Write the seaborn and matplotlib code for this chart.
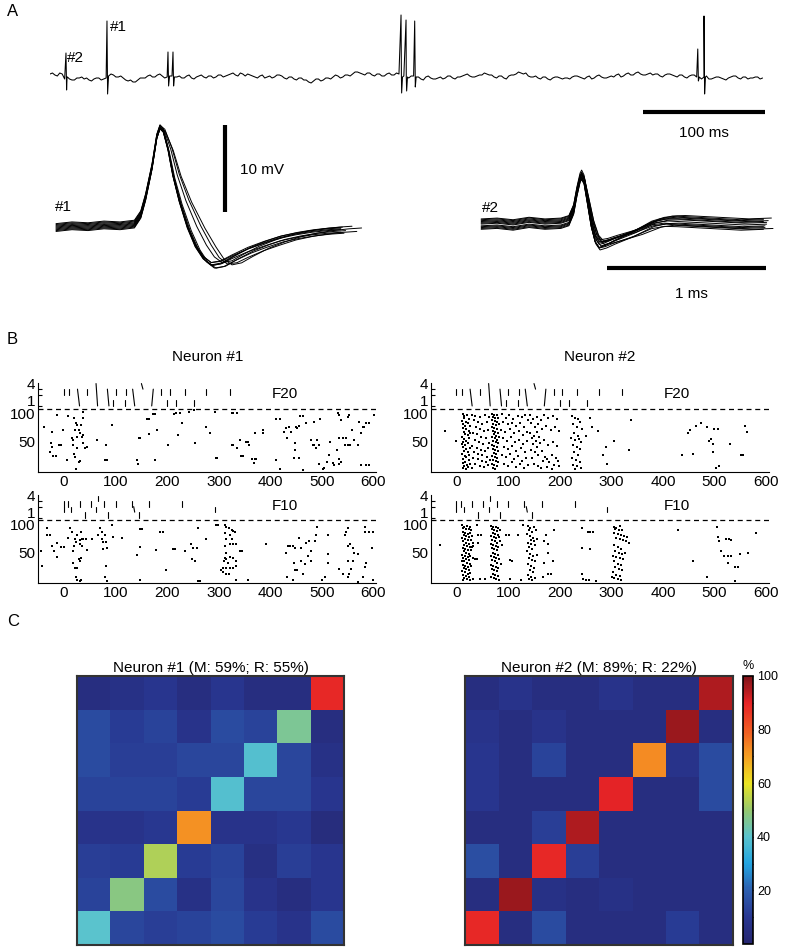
import numpy as np
import pandas as pd
import matplotlib
matplotlib.use('Agg')
import matplotlib.pyplot as plt
import seaborn as sns
from matplotlib.colors import LinearSegmentedColormap

sns.set_style('white')
plt.rcParams['font.family'] = ['Liberation Sans', 'DejaVu Sans']
plt.rcParams['text.color'] = 'k'
plt.rcParams['xtick.color'] = 'k'
plt.rcParams['ytick.color'] = 'k'
plt.rcParams['axes.edgecolor'] = 'k'

# ---------------- data ----------------
# A: raw trace, baseline sampled every 4 ms (px-like units, 0 = resting level)
trace_step = 4
trace_base = [3, 2, 4, -2, -2, -3, -1, -2, -3, -2, -1, -2,
              1, 2, 0, -1, -4, -5, -3, -1, 1, 0, 2, 1,
              0, 1, 0, -1, 1, -1, 0, 2, -1, 1, 0, 2,
              1, 3, 2, 4, 1, 2, 0, 1, -1, 1, 0, 2,
              -1, 0, -2, -1, -3, -5, -4, -2, -3, -1, 0, 1,
              0, 2, 3, 5, 3, 4, 2, 3, 1, 3, 2, 4,
              2, 0, 1, -1, -2, 0, -1, -2, 0, -1, 1, -2,
              0, 2, 1, 0, 2, 4, 2, 0, 1, -1, 1, 2,
              5, 3, 1, 0, -1, 0, -2, -1, 0, -2, -1, 0,
              1, -1, 0, -2, 1, 0, -1, 1, 2, 0, 3, 2,
              4, 3, 2, 4, 3, 1, 2, 3, 1, 2, 0, 1,
              2, -1, 0, -2, -1, 0, -2, -1, 1, -1, 0, -2,
              -1, 0, -1]
# samples half way between the ones above (t = 2, 6, 10, ...)
trace_mid = [4, 1, 3, 0, -3, -1, 0, -1, -4, -1, -3, -1,
             3, 0, 1, -3, -3, -5, -1, -1, 2, 0, 3, -1,
             1, -1, 1, -1, 2, -2, 1, 0, 1, -1, 2, 0,
             2, 4, 1, 3, 3, 1, -1, 2, 0, -1, 2, 1,
             -2, 0, -3, -1, -3, -6, -2, -4, -1, -2, 2, -1,
             2, 1, 5, 4, 2, 4, 1, 3, 1, 4, 2, 3,
             1, -1, 1, 0, -3, 1, -2, -1, -2, 1, -1, 0,
             1, 3, 0, 1, 2, 3, 2, -1, 1, -2, 2, 3,
             4, 4, 0, 1, -2, 0, -3, 0, -1, -1, -2, 1,
             0, -2, 1, -1, 2, -1, 0, 0, 3, 1, 4, 2,
             5, 2, 3, 2, 3, 0, 3, 2, 0, 2, -1, 2,
             0, -2, 1, -2, 0, -1, -3, 0, 1, -2, 0, -1,
             0, -2]
spike_t = [13.1, 46.7, 96.7, 100.8, 287.7, 291.8, 298.9, 530.9, 536.0]
spike_up = [24, 56, 25, 25, 62, 57, 56, 28, 61]
spike_down = [-13, -17, -9, -9, -16, -14, -10, -4, -17]

# A: spike waveform templates (ms from peak, mV)
w1_t = [-0.65, -0.55, -0.45, -0.35, -0.25, -0.16, -0.12, -0.09, -0.05, -0.02, 0.0, 0.02,
        0.05, 0.08, 0.12, 0.17, 0.22, 0.27, 0.32, 0.38, 0.45, 0.55, 0.65, 0.75, 0.85,
        0.95, 1.05, 1.13]
w1_v = [0.0, 0.2, 0.1, 0.3, 0.2, 0.4, 1.5, 3.5, 7.0, 10.5, 11.6, 11.2,
        9.0, 6.0, 3.0, 0.0, -2.2, -3.6, -4.3, -4.1, -3.4, -2.5, -1.8, -1.2, -0.8,
        -0.5, -0.3, -0.2]
w1_gain = [1.00, 0.99, 1.01, 0.98, 1.00, 0.97, 1.02, 0.99, 0.98, 1.00]
w1_pre = [0.0, 0.3, -0.3, 0.5, -0.2, 0.2, -0.4, 0.1, 0.4, -0.1]
w1_post = [0.1, -0.3, 0.3, 0.0, -0.4, 0.2, -0.1, 0.4, -0.2, 0.2]
w1_lag = [0.0, 0.0, 0.01, 0.0, 0.02, 0.0, 0.03, 0.07, 0.10, 0.13]

w2_t = [-0.63, -0.53, -0.43, -0.33, -0.23, -0.13, -0.08, -0.05, -0.03, -0.01, 0.0, 0.015,
        0.035, 0.06, 0.085, 0.11, 0.15, 0.2, 0.26, 0.32, 0.38, 0.44, 0.52, 0.6, 0.7,
        0.8, 0.9, 1.0, 1.14]
w2_v = [0.1, 0.2, 0.0, 0.3, 0.1, 0.2, 0.5, 1.8, 3.8, 5.4, 5.75, 5.2,
        3.0, 0.2, -1.6, -2.3, -2.1, -1.7, -1.3, -0.9, -0.4, 0.1, 0.4, 0.4, 0.3,
        0.2, 0.1, 0.0, 0.1]
w2_gain = [1.00, 0.97, 1.03, 0.95, 1.00, 0.98, 1.02, 0.96, 1.01, 0.99, 0.97, 1.00]
w2_pre = [0.0, 0.4, -0.4, 0.6, -0.3, 0.2, -0.6, 0.3, 0.5, -0.2, 0.1, -0.5]
w2_post = [0.3, -0.4, 0.6, 0.0, -0.6, 0.4, -0.2, 0.7, -0.3, 0.2, -0.5, 0.5]
w2_lag = [0.0, 0.01, 0.0, 0.02, 0.0, 0.03, 0.01, 0.05, 0.0, 0.02, 0.06, 0.0]

# B: stimulus marks (time top, time bottom, level low, level high)
f20_marks = [(-1, -1, 2, 3), (10, 10, 2, 3), (26, 30, 0, 3), (45, 45, 2, 3), (62, 65, 0, 4),
             (84, 87, 0, 3), (95, 95, 0, 1), (100, 100, 2, 3), (118, 118, 0, 1), (120, 120, 2, 3),
             (133, 137, 0, 3), (150, 153, 3, 4), (173, 170, 0, 3), (188, 188, 2, 3), (200, 200, 0, 1),
             (205, 205, 2, 3), (218, 218, 0, 1), (234, 234, 2, 3), (252, 252, 0, 1), (276, 276, 2, 3),
             (321, 321, 2, 3)]
f10_marks = [(-1, -1, 1, 3), (8, 8, 2, 3), (14, 14, 1, 2), (30, 30, 2, 3), (41, 41, 0, 1),
             (52, 52, 2, 3), (62, 62, 1, 2), (65, 65, 3, 4), (78, 78, 2, 3), (85, 85, 0, 1),
             (100, 100, 2, 3), (131, 131, 2, 3), (135, 137, 1, 2), (146, 146, 0, 1), (165, 165, 2, 3),
             (229, 229, 2, 3), (292, 292, 1, 2)]

# B: spikes (time ms, trial)
n1_f20 = np.array([
    (-38, 76), (-24, 67), (-25, 46), (-24, 40), (-27, 31), (-21, 23), (-15, 23), (-9, 43), (-5, 43), (-14, 97),
    (-3, 70), (5, 17), (8, 95), (15, 55), (17, 52), (21, 70), (19, 91), (23, 82), (26, 79), (28, 70),
    (31, 64), (25, 58), (18, 43), (25, 37), (20, 27), (22, 22), (31, 14), (28, 13), (24, 1), (34, 58),
    (36, 46), (41, 37), (45, 39), (37, 61), (33, 79), (37, 92), (37, 103), (63, 53), (79, 16), (83, 16),
    (81, 43), (92, 79), (142, 16), (144, 10), (146, 55), (148, 55), (160, 89), (164, 89), (165, 63), (173, 99),
    (176, 99), (181, 70), (176, 16), (201, 43), (214, 99), (218, 100), (225, 100), (228, 82), (221, 61), (243, 103),
    (252, 105), (254, 47), (276, 76), (283, 64), (292, 103), (294, 20), (297, 20), (325, 100), (328, 100), (336, 100),
    (325, 43), (328, 43), (336, 37), (341, 52), (344, 23), (348, 23), (352, 49), (357, 49), (358, 43), (364, 19),
    (368, 11), (370, 19), (373, 19), (370, 65), (386, 70), (386, 65), (412, 89), (418, 89), (412, 16), (419, 1),
    (426, 67), (431, 73), (432, 55), (436, 76), (441, 67), (447, 46), (447, 34), (446, 20), (449, 76), (452, 73),
    (455, 77), (458, 95), (463, 95), (455, 20), (463, -2), (470, 83), (479, 52), (483, 43), (485, 85), (485, 43),
    (495, 43), (497, 89), (489, 37), (490, 52), (505, 2), (503, 1), (510, 13), (514, 25), (515, 49), (521, 11),
    (531, 101), (534, 97), (537, 88), (530, 34), (533, 19), (534, 10), (537, 13), (534, 56), (541, 55), (547, 55),
    (544, 43), (550, 43), (550, 94), (553, 97), (558, 70), (555, 43), (563, 52), (572, 85), (576, 64), (579, 76),
    (582, 76), (586, 82), (592, 83), (576, 7), (586, 7), (592, 7), (570, 43), (602, 97), (495, 10), (524, 7)])

n2_f20 = np.array([
    (-22, 68), (-1, 50),
    (12, 98), (15, 95), (20, 96), (14, 92), (24, 90), (11, 87), (18, 85), (22, 83), (13, 80), (16, 77),
    (25, 78), (12, 73), (19, 71), (23, 69), (14, 66), (17, 63), (21, 61), (11, 58), (24, 56), (15, 54),
    (19, 51), (13, 48), (22, 46), (16, 43), (12, 40), (25, 38), (18, 36), (14, 33), (21, 31), (11, 28),
    (23, 26), (16, 23), (19, 21), (13, 18), (24, 16), (17, 13), (12, 11), (20, 8), (15, 6), (22, 4),
    (13, 2), (18, 1), (26, 10), (10, 45), (26, 65),
    (30, 97), (36, 95), (45, 94), (55, 96), (62, 93), (33, 88), (42, 85), (50, 80), (58, 84), (38, 75),
    (46, 72), (53, 68), (60, 70), (31, 65), (40, 62), (48, 58), (57, 55), (35, 52), (44, 48), (52, 45),
    (63, 47), (30, 42), (39, 38), (47, 35), (55, 33), (61, 37), (34, 30), (42, 27), (50, 25), (58, 22),
    (32, 20), (41, 18), (49, 15), (56, 12), (64, 16), (36, 9), (45, 6), (53, 4), (60, 8), (30, 3),
    (68, 99), (72, 97), (78, 96), (70, 93), (75, 91), (81, 92), (69, 88), (74, 86), (79, 84), (71, 81),
    (76, 79), (82, 80), (68, 76), (73, 74), (78, 72), (70, 69), (75, 67), (80, 65), (72, 62), (77, 60),
    (69, 57), (74, 55), (79, 53), (71, 50), (76, 48), (81, 46), (68, 43), (73, 41), (78, 39), (70, 36),
    (75, 34), (80, 32), (72, 29), (77, 27), (69, 24), (74, 22), (79, 20), (71, 17), (76, 15), (81, 13),
    (68, 10), (73, 8), (78, 6), (70, 3), (75, 1), (83, 58),
    (88, 98), (95, 92), (102, 96), (110, 90), (118, 95), (126, 93), (133, 97), (90, 85), (99, 80), (107, 83),
    (115, 78), (123, 82), (131, 75), (138, 88), (86, 70), (94, 66), (103, 72), (112, 64), (120, 68), (128, 61),
    (136, 66), (89, 55), (97, 50), (105, 57), (113, 48), (121, 53), (129, 45), (137, 51), (92, 40), (100, 36),
    (108, 42), (116, 33), (124, 38), (132, 30), (87, 26), (96, 22), (104, 28), (111, 18), (119, 24), (127, 15),
    (135, 20), (91, 10), (99, 6), (107, 12), (115, 4), (123, 9), (131, 2), (139, 7),
    (142, 96), (148, 90), (155, 94), (163, 88), (170, 97), (178, 92), (186, 95), (194, 89), (145, 82), (152, 76),
    (158, 80), (166, 72), (174, 78), (182, 70), (190, 75), (198, 68), (143, 65), (150, 60), (156, 66), (146, 55),
    (153, 50), (160, 57), (148, 45), (155, 40), (162, 47), (170, 52), (178, 44), (186, 49), (195, 42), (144, 35),
    (151, 30), (158, 25), (165, 32), (172, 22), (168, 15), (175, 18), (180, 12), (184, 26), (188, 8), (192, 20),
    (196, 14), (150, 10), (157, 5), (164, 2), (176, 4), (185, 1), (199, 6), (147, 20),
    (224, 95), (230, 92), (236, 90), (240, 85), (226, 80), (233, 76), (243, 72), (228, 65), (235, 60), (222, 55),
    (230, 52), (238, 54), (242, 48), (226, 44), (234, 40), (240, 36), (228, 30), (236, 25), (224, 20), (232, 16),
    (239, 12), (226, 8), (234, 5), (242, 3), (230, 1),
    (258, 92), (262, 75), (275, 68), (290, 40), (284, 25), (292, 10), (338, 88), (335, 35), (305, 50), (251, 60),
    (437, 25), (448, 65), (452, 70), (458, 28), (465, 78), (474, 83), (485, 76), (490, 50), (494, 54), (497, 45),
    (499, 71), (506, 71), (503, 2), (508, 6), (530, 45), (551, 25), (555, 25), (560, 77), (563, 67), (498, 30)])

n1_f10 = np.array([
    (-45, 53), (-43, 25), (-34, 82), (-27, 81), (-34, 94), (-24, 62), (-19, 53), (-14, 68), (-14, 42), (-5, 60),
    (0, 60), (8, 76), (12, 94), (15, 88), (17, 53), (21, 75), (26, 82), (23, 69), (19, 62), (30, 72),
    (32, 88), (34, 74), (31, 65), (34, 62), (28, 38), (17, 32), (21, 22), (25, 22), (30, 35), (32, 41),
    (23, 5), (26, 1), (30, -1), (32, 0), (37, 74), (45, 54), (43, 74), (55, 75), (66, 82), (70, 95),
    (73, 74), (76, 69), (81, 69), (73, 88), (79, 82), (83, 59), (76, 56), (81, 25), (80, 6), (83, -1),
    (92, 99), (95, 79), (112, 76), (141, 46), (147, 60), (147, 93), (151, 93), (147, 0), (186, 87), (192, 87),
    (179, 54), (197, 19), (212, 56), (215, 56), (234, 53), (247, 65), (250, 59), (257, 59), (249, 38), (253, 35),
    (260, 94), (260, -1), (263, -1), (275, 75), (295, 99), (299, 99),
    (315, 97), (320, 94), (325, 91), (328, 89), (331, 88), (312, 85), (321, 82), (315, 74), (325, 74), (328, 65),
    (334, 65), (312, 62), (342, 52), (346, 52), (312, 41), (315, 38), (321, 42), (328, 41), (334, 35), (318, 31),
    (305, 19), (309, 22), (315, 22), (321, 22), (328, 22), (334, 25), (308, 15), (315, 12), (320, 12), (333, 1),
    (357, 1), (318, 32), (310, 34), (315, 50), (321, 65), (312, 100),
    (391, 65), (431, 50), (434, 62), (439, 62), (444, 62), (447, 59), (432, 6), (444, 1), (446, 31), (447, 19),
    (452, 19), (455, 76), (459, 59), (460, 35), (463, 11), (468, 29), (470, 68), (476, 71), (473, 44), (479, 53),
    (479, 35), (486, 71), (488, 82), (490, 97), (501, 1), (506, 6), (512, 47), (512, 32), (512, 82),
    (534, 21), (541, 11), (544, 82), (547, 88), (550, 94), (550, 62), (555, 65), (560, 59), (563, 50), (570, 47),
    (550, 35), (560, 35), (550, 6), (553, 12), (556, 21), (570, -3), (583, 97), (583, 88), (592, 88), (599, 88),
    (586, 32), (583, 24), (580, 5), (597, 59), (599, 0)])

n2_f10 = np.array([
    (11, 99), (15, 97), (20, 98), (25, 96), (13, 94), (18, 92), (23, 93), (28, 90), (12, 88), (16, 86),
    (21, 84), (26, 85), (14, 82), (19, 80), (24, 78), (11, 76), (17, 74), (22, 72), (27, 73), (13, 70),
    (18, 68), (23, 66), (15, 64), (20, 62), (25, 60), (12, 58), (17, 56), (22, 54), (27, 55), (14, 52),
    (19, 50), (24, 48), (11, 46), (16, 44), (21, 42), (26, 43), (13, 40), (18, 38), (23, 36), (15, 34),
    (20, 32), (25, 30), (12, 28), (17, 26), (22, 24), (27, 25), (14, 22), (19, 20), (24, 18), (11, 16),
    (16, 14), (21, 12), (26, 13), (13, 10), (18, 8), (23, 6), (15, 4), (20, 2), (25, 1), (12, 1),
    (29, 60), (30, 80), (31, 40), (32, 62), (10, 35),
    (66, 98), (71, 96), (76, 97), (81, 94), (68, 92), (73, 90), (78, 89), (84, 91), (70, 86), (75, 84),
    (80, 82), (67, 80), (72, 78), (77, 76), (82, 79), (69, 72), (74, 70), (79, 68), (85, 70), (66, 66),
    (71, 64), (76, 62), (81, 60), (68, 58), (73, 56), (78, 54), (70, 50), (75, 48), (80, 46), (67, 44),
    (72, 42), (77, 40), (82, 38), (69, 36), (74, 34), (79, 32), (66, 28), (71, 26), (76, 24), (81, 22),
    (68, 20), (73, 18), (78, 16), (70, 12), (75, 10), (80, 8), (67, 6), (72, 4), (77, 2), (82, 1),
    (87, 64), (86, 30),
    (138, 98), (143, 95), (150, 97), (140, 90), (146, 88), (153, 91), (137, 84), (142, 80), (148, 76), (144, 72),
    (150, 70), (139, 68), (145, 66), (152, 64), (141, 60), (147, 56), (137, 52), (143, 48), (149, 44), (140, 40),
    (146, 36), (152, 34), (138, 30), (144, 26), (150, 22), (142, 18), (148, 14), (139, 10), (145, 6), (151, 4),
    (141, 2), (147, 1), (156, 75), (155, 45),
    (305, 97), (310, 95), (316, 98), (308, 92), (314, 90), (320, 91), (306, 86), (312, 84), (318, 82), (325, 80),
    (330, 78), (310, 76), (316, 74), (322, 72), (328, 70), (334, 68), (306, 64), (312, 60), (318, 56), (308, 52),
    (314, 50), (320, 48), (326, 50), (304, 44), (310, 42), (316, 40), (322, 38), (306, 34), (312, 30), (318, 28),
    (308, 24), (314, 20), (320, 18), (304, 14), (310, 10), (316, 8), (306, 4), (312, 2), (318, 1), (302, 6),
    (-33, 64), (40, 100), (32, 68), (42, 68), (35, 38), (40, 38), (45, 3), (55, 3), (31, 3), (42, 82),
    (48, 82), (96, 82), (103, 36), (108, 35), (101, 82), (119, 82), (103, 3), (128, 100), (125, 0),
    (170, 71), (173, 82), (177, 65), (178, 50), (170, 32), (177, 11), (183, 11), (186, 34), (167, 5), (189, 91),
    (243, 94), (254, 87), (258, 87), (264, 87), (244, 59), (258, 56), (244, 12), (245, 3), (250, 0), (257, 0),
    (271, -1), (430, 91), (485, 6), (504, 97), (507, 79), (509, 71), (523, 74), (529, 74), (533, 72), (512, 53),
    (519, 44), (526, 44), (533, 44), (549, 47), (565, 50), (526, 31), (539, 24), (546, 24), (539, -1), (459, 35),
    (581, 85)])

# C: classification matrices (%), top row first
conf_n1 = [[5, 7, 9, 5, 9, 5, 5, 89],
           [15, 11, 13, 8, 15, 13, 46, 5],
           [15, 12, 12, 14, 14, 39, 14, 7],
           [13, 13, 13, 11, 39, 14, 14, 9],
           [8, 8, 10, 72, 8, 8, 10, 4],
           [12, 11, 53, 11, 13, 6, 12, 9],
           [13, 48, 15, 7, 14, 8, 5, 9],
           [40, 14, 12, 13, 15, 11, 8, 15]]
conf_n2 = [[5, 8, 5, 5, 8, 5, 5, 95],
           [8, 5, 8, 5, 5, 5, 97, 5],
           [9, 5, 13, 5, 5, 73, 8, 15],
           [9, 5, 5, 5, 90, 5, 5, 15],
           [5, 5, 12, 95, 5, 5, 5, 5],
           [16, 5, 89, 12, 5, 5, 5, 5],
           [5, 97, 7, 5, 7, 5, 5, 5],
           [89, 5, 15, 5, 5, 5, 11, 5]]
titles_c = ['Neuron #1 (M: 59%; R: 55%)', 'Neuron #2 (M: 89%; R: 22%)']

# ---------------- figure ----------------
W, H = 787, 950
fig = plt.figure(figsize=(W / 100, H / 100), dpi=100)


def add_ax(l, t, r, b):
    return fig.add_axes([l / W, 1 - b / H, (r - l) / W, (b - t) / H])


FS = 11

# ---- A: raw trace ----
ax = add_ax(50, 10, 765, 140)
base_t = np.arange(len(trace_base)) * trace_step
mid_t = np.arange(len(trace_mid)) * trace_step + trace_step / 2
st = np.array(spike_t)
trace = pd.DataFrame({
    't': np.concatenate([base_t, mid_t, st, st + 0.5, st + 1.2]),
    'v': np.concatenate([trace_base, trace_mid, spike_up, spike_down, np.zeros(len(st))]),
}).sort_values('t', kind='stable')
sns.lineplot(data=trace, x='t', y='v', estimator=None, sort=False, color='k', lw=0.75, ax=ax)
ax.set_xlim(0, 586)
ax.set_ylim(-63, 67)
ax.axis('off')
ax.plot([486, 586], [-35, -35], color='k', lw=3, solid_capstyle='butt', clip_on=False)
ax.text(536, -56, '100 ms', ha='center', va='center', fontsize=FS)
ax.text(14, 19, '#2', ha='left', va='center', fontsize=FS)
ax.text(49, 50, '#1', ha='left', va='center', fontsize=FS)


def waveform_frame(tt, vv, gain, pre, post, lag):
    tt = np.array(tt)
    vv = np.array(vv)
    parts = []
    for i in range(len(gain)):
        t = tt + lag[i] * np.clip(tt / 0.2, 0, 1)
        off = pre[i] + (post[i] - pre[i]) * np.clip(tt / 0.6, 0, 1)
        parts.append(pd.DataFrame({'t': t, 'v': vv * gain[i] + off, 'trace': i}))
    return pd.concat(parts, ignore_index=True)


# ---- A: waveform #1 ----
ax = add_ax(40, 115, 400, 300)
df1 = waveform_frame(w1_t, w1_v, w1_gain, w1_pre, w1_post, w1_lag)
sns.lineplot(data=df1, x='t', y='v', units='trace', estimator=None, sort=False,
             color='k', lw=0.7, ax=ax)
ax.set_xlim(-0.75, 1.5)
ax.set_ylim(-8.28, 12.99)
ax.axis('off')
ax.plot([0.406, 0.406], [1.84, 11.84], color='k', lw=3, solid_capstyle='butt')
ax.text(0.5, 6.67, '10 mV', ha='left', va='center', fontsize=FS)
ax.text(-0.656, 2.4, '#1', ha='left', va='center', fontsize=FS)

# ---- A: waveform #2 ----
ax = add_ax(470, 115, 775, 305)
df2 = waveform_frame(w2_t, w2_v, w2_gain, w2_pre, w2_post, w2_lag)
sns.lineplot(data=df2, x='t', y='v', units='trace', estimator=None, sort=False,
             color='k', lw=0.7, ax=ax)
ax.set_xlim(-0.7, 1.2125)
ax.set_ylim(-9.2, 12.64)
ax.axis('off')
ax.plot([0.156, 1.156], [-4.94, -4.94], color='k', lw=3, solid_capstyle='butt', clip_on=False)
ax.text(0.69, -7.9, '1 ms', ha='center', va='center', fontsize=FS)
ax.text(-0.625, 1.95, '#2', ha='left', va='center', fontsize=FS)


# ---- B: rasters ----
def raster(ax, dots, marks, label):
    sns.scatterplot(x=dots[:, 0], y=dots[:, 1], marker='s', s=1.6, color='k',
                    linewidth=0, ax=ax)
    for t_top, t_bot, lo, hi in marks:
        ax.plot([t_bot, t_top], [113 + 10 * lo, 113 + 10 * hi], color='k', lw=0.8)
    ax.axhline(108, color='k', lw=0.9, ls=(0, (4, 3)))
    ax.set_xlim(-50, 606)
    ax.set_ylim(-5, 154)
    ax.set_xticks(range(0, 601, 100))
    ax.set_yticks([50, 100, 123, 153], ['50', '100', '1', '4'])
    ax.set_yticks([113, 133, 143], minor=True)
    ax.tick_params(direction='in', length=3, labelsize=FS, pad=2, width=0.8)
    ax.tick_params(which='minor', direction='in', length=3, width=0.8, left=True)
    for s in ['top', 'right']:
        ax.spines[s].set_visible(False)
    for s in ['left', 'bottom']:
        ax.spines[s].set_linewidth(0.8)
        ax.spines[s].set_color('k')
    ax.text(428, 134, label, ha='center', va='center', fontsize=FS)
    ax.set_xlabel('')
    ax.set_ylabel('')


panels = [(38.3, 383, 472, n1_f20, f20_marks, 'F20'),
          (430.9, 383, 472, n2_f20, f20_marks, 'F20'),
          (38.3, 495, 583, n1_f10, f10_marks, 'F10'),
          (430.9, 495, 583, n2_f10, f10_marks, 'F10')]
for left, top, bottom, dots, marks, lab in panels:
    ax = add_ax(left, top, left + 338.2, bottom)
    raster(ax, dots, marks, lab)

fig.text(208 / W, 1 - 357 / H, 'Neuron #1', ha='center', va='center', fontsize=FS)
fig.text(600 / W, 1 - 357 / H, 'Neuron #2', ha='center', va='center', fontsize=FS)

# ---- C: confusion matrices ----
cmap = LinearSegmentedColormap.from_list('muted_jet', [
    '#262670', '#283791', '#2d5faf', '#23a5e1', '#5ac3cd', '#96c86e',
    '#ebe423', '#f5a023', '#f05a23', '#e62326', '#7d1419'])

cax = add_ax(743, 676, 753, 944)
boxes = [(77, 676, 344, 945), (465, 676, 733, 945)]
for k, (conf, box) in enumerate(zip([conf_n1, conf_n2], boxes)):
    ax = add_ax(*box)
    sns.heatmap(np.array(conf), vmin=0, vmax=100, cmap=cmap, ax=ax,
                cbar=(k == 1), cbar_ax=cax if k == 1 else None,
                xticklabels=False, yticklabels=False)
    ax.set_xticks(np.arange(8) + 0.5)
    ax.set_yticks(np.arange(8) + 0.5)
    ax.tick_params(direction='in', length=3, width=0.8, top=True, right=True,
                   bottom=True, left=True, labelbottom=False, labelleft=False,
                   color='#222222')
    for sp in ax.spines.values():
        sp.set_visible(True)
        sp.set_color('#333333')
        sp.set_linewidth(1.5)
    ax.set_title(titles_c[k], fontsize=FS, pad=3)

cbar = fig.axes[-1].collections[0].colorbar
cbar.set_ticks([20, 40, 60, 80, 100])
cax.set_yticks(range(10, 100, 20), minor=True)
cax.tick_params(direction='in', length=3, width=0.9, labelsize=9, pad=3, right=True, left=False)
cax.tick_params(which='minor', direction='in', length=3, width=0.9, right=True, left=False)
cbar.outline.set_edgecolor('k')
cbar.outline.set_linewidth(1.2)
fig.text(748 / W, 1 - 666 / H, '%', ha='center', va='center', fontsize=9)

# panel letters
for letter, y in [('A', 12), ('B', 340), ('C', 622)]:
    fig.text(7 / W, 1 - y / H, letter, ha='left', va='center', fontsize=12)

fig.savefig('out.png', dpi=100)
